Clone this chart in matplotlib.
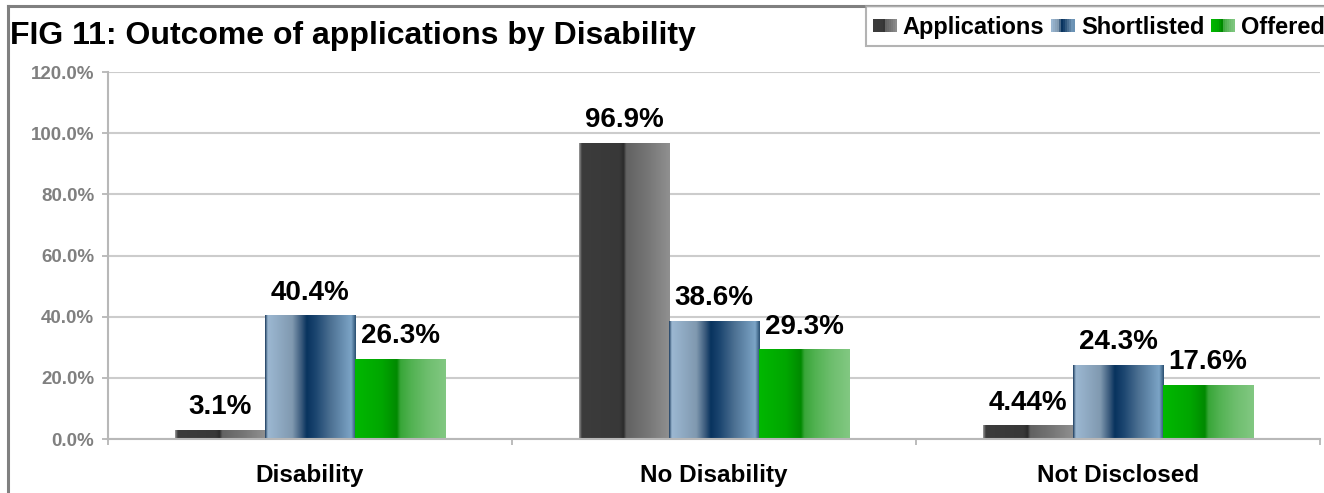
import numpy as np
import matplotlib
matplotlib.use("Agg")
import matplotlib.pyplot as plt
from matplotlib.colors import LinearSegmentedColormap
from matplotlib.patches import Rectangle
from matplotlib.legend_handler import HandlerBase
from matplotlib.lines import Line2D

plt.rcParams['font.family'] = ['Liberation Sans', 'DejaVu Sans']

# Data
categories = ["Disability", "No Disability", "Not Disclosed"]
applications = [3.1, 96.9, 4.44]
shortlisted = [40.4, 38.6, 24.3]
offered = [26.3, 29.3, 17.6]
series_names = ["Applications", "Shortlisted", "Offered"]
yticks = [0, 20, 40, 60, 80, 100, 120]

# gradient stops for each series (Excel-like metallic fills)
grad_stops = [
    [(0.0, "#9a9a9a"), (0.03, "#3c3c3c"), (0.45, "#383838"), (0.49, "#2a2a2a"),
     (0.52, "#626262"), (0.75, "#757575"), (1.0, "#909090")],
    [(0.0, "#1e3e60"), (0.03, "#9cb8d2"), (0.3, "#8099b0"), (0.4, "#3a5a7c"),
     (0.46, "#08335e"), (0.56, "#1c4670"), (0.72, "#4c7092"), (0.95, "#7ca4c6"),
     (1.0, "#2a5072")],
    [(0.0, "#00b800"), (0.3, "#00a600"), (0.46, "#008a00"), (0.5, "#38a638"),
     (0.62, "#52b252"), (0.8, "#6ebe6e"), (1.0, "#82c882")],
]
cmaps = [LinearSegmentedColormap.from_list(f"g{i}", s) for i, s in enumerate(grad_stops)]

fig = plt.figure(figsize=(13.24, 4.93), dpi=100)
ax = fig.add_axes([0.0816, 0.1095, 0.9154, 0.7444])

x = np.arange(len(categories))
width = 0.223
grad = np.linspace(0, 1, 256)[np.newaxis, :]

for i, vals in enumerate([applications, shortlisted, offered]):
    pos = x + (i - 1) * width
    bars = ax.bar(pos, vals, width, color="none", edgecolor="none", zorder=2)
    for b, v in zip(bars, vals):
        x0 = b.get_x()
        im = ax.imshow(grad, cmap=cmaps[i], aspect="auto", zorder=2,
                       extent=(x0, x0 + width, 0, v), interpolation="bilinear")
        im.set_clip_path(b)
        ax.annotate(f"{v}%", (b.get_x() + width / 2, v), xytext=(0, 7),
                    textcoords="offset points", ha="center", va="bottom",
                    fontsize=20, fontweight="bold", color="black")

ax.set_xlim(-0.5, 2.5)
ax.set_ylim(0, 120)
ax.set_yticks(yticks)
ax.set_yticklabels([f"{t:.1f}%" for t in yticks], fontsize=13.5, fontweight="bold", color="#808080")
ax.set_xticks(x)
ax.set_xticklabels(categories, fontsize=17.5, fontweight="bold")
ax.set_xticks([-0.5, 0.5, 1.5, 2.5], minor=True)
ax.tick_params(axis="x", which="major", length=0, pad=18)
ax.tick_params(axis="x", which="minor", length=4, color="#b0b0b0", width=1.2)
ax.tick_params(axis="y", length=4, color="#b0b0b0", width=1.2, pad=6)
ax.yaxis.grid(True, color="#cccccc", linewidth=1.5, zorder=0)
ax.set_axisbelow(True)
for s in ["top", "right"]:
    ax.spines[s].set_visible(False)
for s in ["left", "bottom"]:
    ax.spines[s].set_color("#b8b8b8")
    ax.spines[s].set_linewidth(1.5)

# outer chart frame (cut off at right and bottom)
fig.add_artist(Line2D([8 / 1324, 8 / 1324], [0, 1 - 6 / 493], color="#808080", linewidth=2.2))
fig.add_artist(Line2D([8 / 1324, 1], [1 - 6 / 493, 1 - 6 / 493], color="#808080", linewidth=2.2))

fig.text(10 / 1324, 1 - 36 / 493, "FIG 11: Outcome of applications by Disability",
         fontsize=23, fontweight="bold", va="center", ha="left")


class GradHandler(HandlerBase):
    def __init__(self, stops):
        super().__init__()
        self.stops = stops

    def create_artists(self, legend, orig_handle, xdescent, ydescent, width, height, fontsize, trans):
        cm = LinearSegmentedColormap.from_list("h", self.stops)
        n = 12
        h = height * 0.5
        y0 = -ydescent + (height - h) / 2
        arts = []
        for k in range(n):
            arts.append(Rectangle((-xdescent + k * width / n, y0), width / n + 0.3, h,
                                  facecolor=cm((k + 0.5) / n), edgecolor="none", transform=trans))
        return arts


handles = [Rectangle((0, 0), 1, 1) for _ in series_names]
handler_map = {h: GradHandler(s) for h, s in zip(handles, grad_stops)}
leg = fig.legend(handles, series_names, ncol=3, loc="upper left",
                 bbox_to_anchor=(866 / 1324, 1 - 6 / 493), handler_map=handler_map,
                 prop={"size": 17, "weight": "bold"}, frameon=True, fancybox=False,
                 edgecolor="#a0a0a0", handlelength=1.0, handleheight=1.25,
                 handletextpad=0.25, columnspacing=0.3, borderpad=0.3, borderaxespad=0)
leg.get_frame().set_linewidth(1.5)

fig.savefig("out.png", dpi=100)
